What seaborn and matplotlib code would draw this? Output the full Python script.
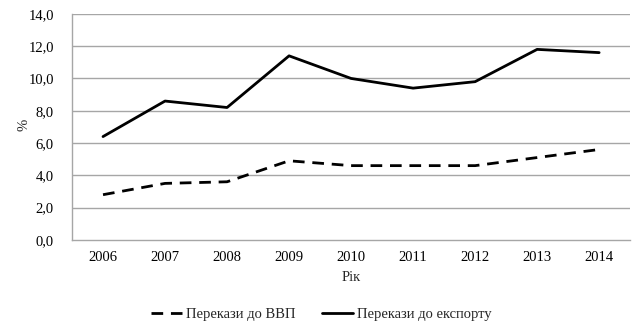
import matplotlib
matplotlib.use("Agg")
import matplotlib.pyplot as plt
from matplotlib.lines import Line2D
import seaborn as sns
import pandas as pd
import numpy as np

years = ["2006", "2007", "2008", "2009", "2010", "2011", "2012", "2013", "2014"]
gdp_share = [2.8, 3.5, 3.6, 4.9, 4.6, 4.6, 4.6, 5.1, 5.6]
export_share = [6.4, 8.6, 8.2, 11.4, 10.0, 9.4, 9.8, 11.8, 11.6]
series_names = ["Перекази до ВВП", "Перекази до експорту"]
y_ticks = [0, 2, 4, 6, 8, 10, 12, 14]

sns.set_theme(style="white")
plt.rcParams["font.family"] = ["Liberation Serif", "DejaVu Serif"]

df = pd.DataFrame({
    "pos": list(range(len(years))) * 2,
    "value": gdp_share + export_share,
    "series": [series_names[0]] * len(years) + [series_names[1]] * len(years),
})

fig = plt.figure(figsize=(6.43, 3.30), dpi=100)
ax = fig.add_axes([0.112, 0.273, 0.868, 0.685])

grid_c = "#a6a6a6"
for v in y_ticks[1:]:
    ax.axhline(v, color=grid_c, lw=1.0, zorder=0)

dash_pat = (4.2, 2.8)
lw = 2.0
sns.lineplot(data=df, x="pos", y="value", hue="series", style="series",
             palette={series_names[0]: "black", series_names[1]: "black"},
             dashes={series_names[0]: dash_pat, series_names[1]: ""},
             linewidth=lw, ax=ax, legend=False, sort=False)

ax.set_xlim(-0.5, len(years) - 0.5)
ax.set_ylim(0, 14)
ax.set_yticks(y_ticks)
ax.set_yticklabels([f"{v:.1f}".replace(".", ",") for v in y_ticks], fontsize=10.5)
ax.set_xticks(range(len(years)))
ax.set_xticklabels(years, fontsize=10.5)
ax.set_xticks(np.arange(-0.5, len(years)), minor=True)
ax.tick_params(axis="x", which="major", length=0, pad=8, colors="black")
ax.tick_params(axis="x", which="minor", length=4, color=grid_c, width=1)
ax.tick_params(axis="y", length=4, color=grid_c, width=1, pad=9, colors="black")

for side in ["top", "right"]:
    ax.spines[side].set_visible(False)
for side in ["left", "bottom"]:
    ax.spines[side].set_color(grid_c)
    ax.spines[side].set_linewidth(1.0)

ax.set_xlabel("Рік", fontsize=10.5, labelpad=5)
ax.set_ylabel("%", fontsize=10.5)
ax.yaxis.set_label_coords(-0.075, 0.51)

handles = [
    Line2D([], [], color="black", lw=lw, dashes=dash_pat),
    Line2D([], [], color="black", lw=lw),
]
fig.legend(handles, series_names, loc="center", bbox_to_anchor=(0.5, 0.048),
           ncol=2, frameon=False, fontsize=10.5, handlelength=2.1,
           handletextpad=0.3, columnspacing=1.8)

fig.savefig("out.png", dpi=100)
